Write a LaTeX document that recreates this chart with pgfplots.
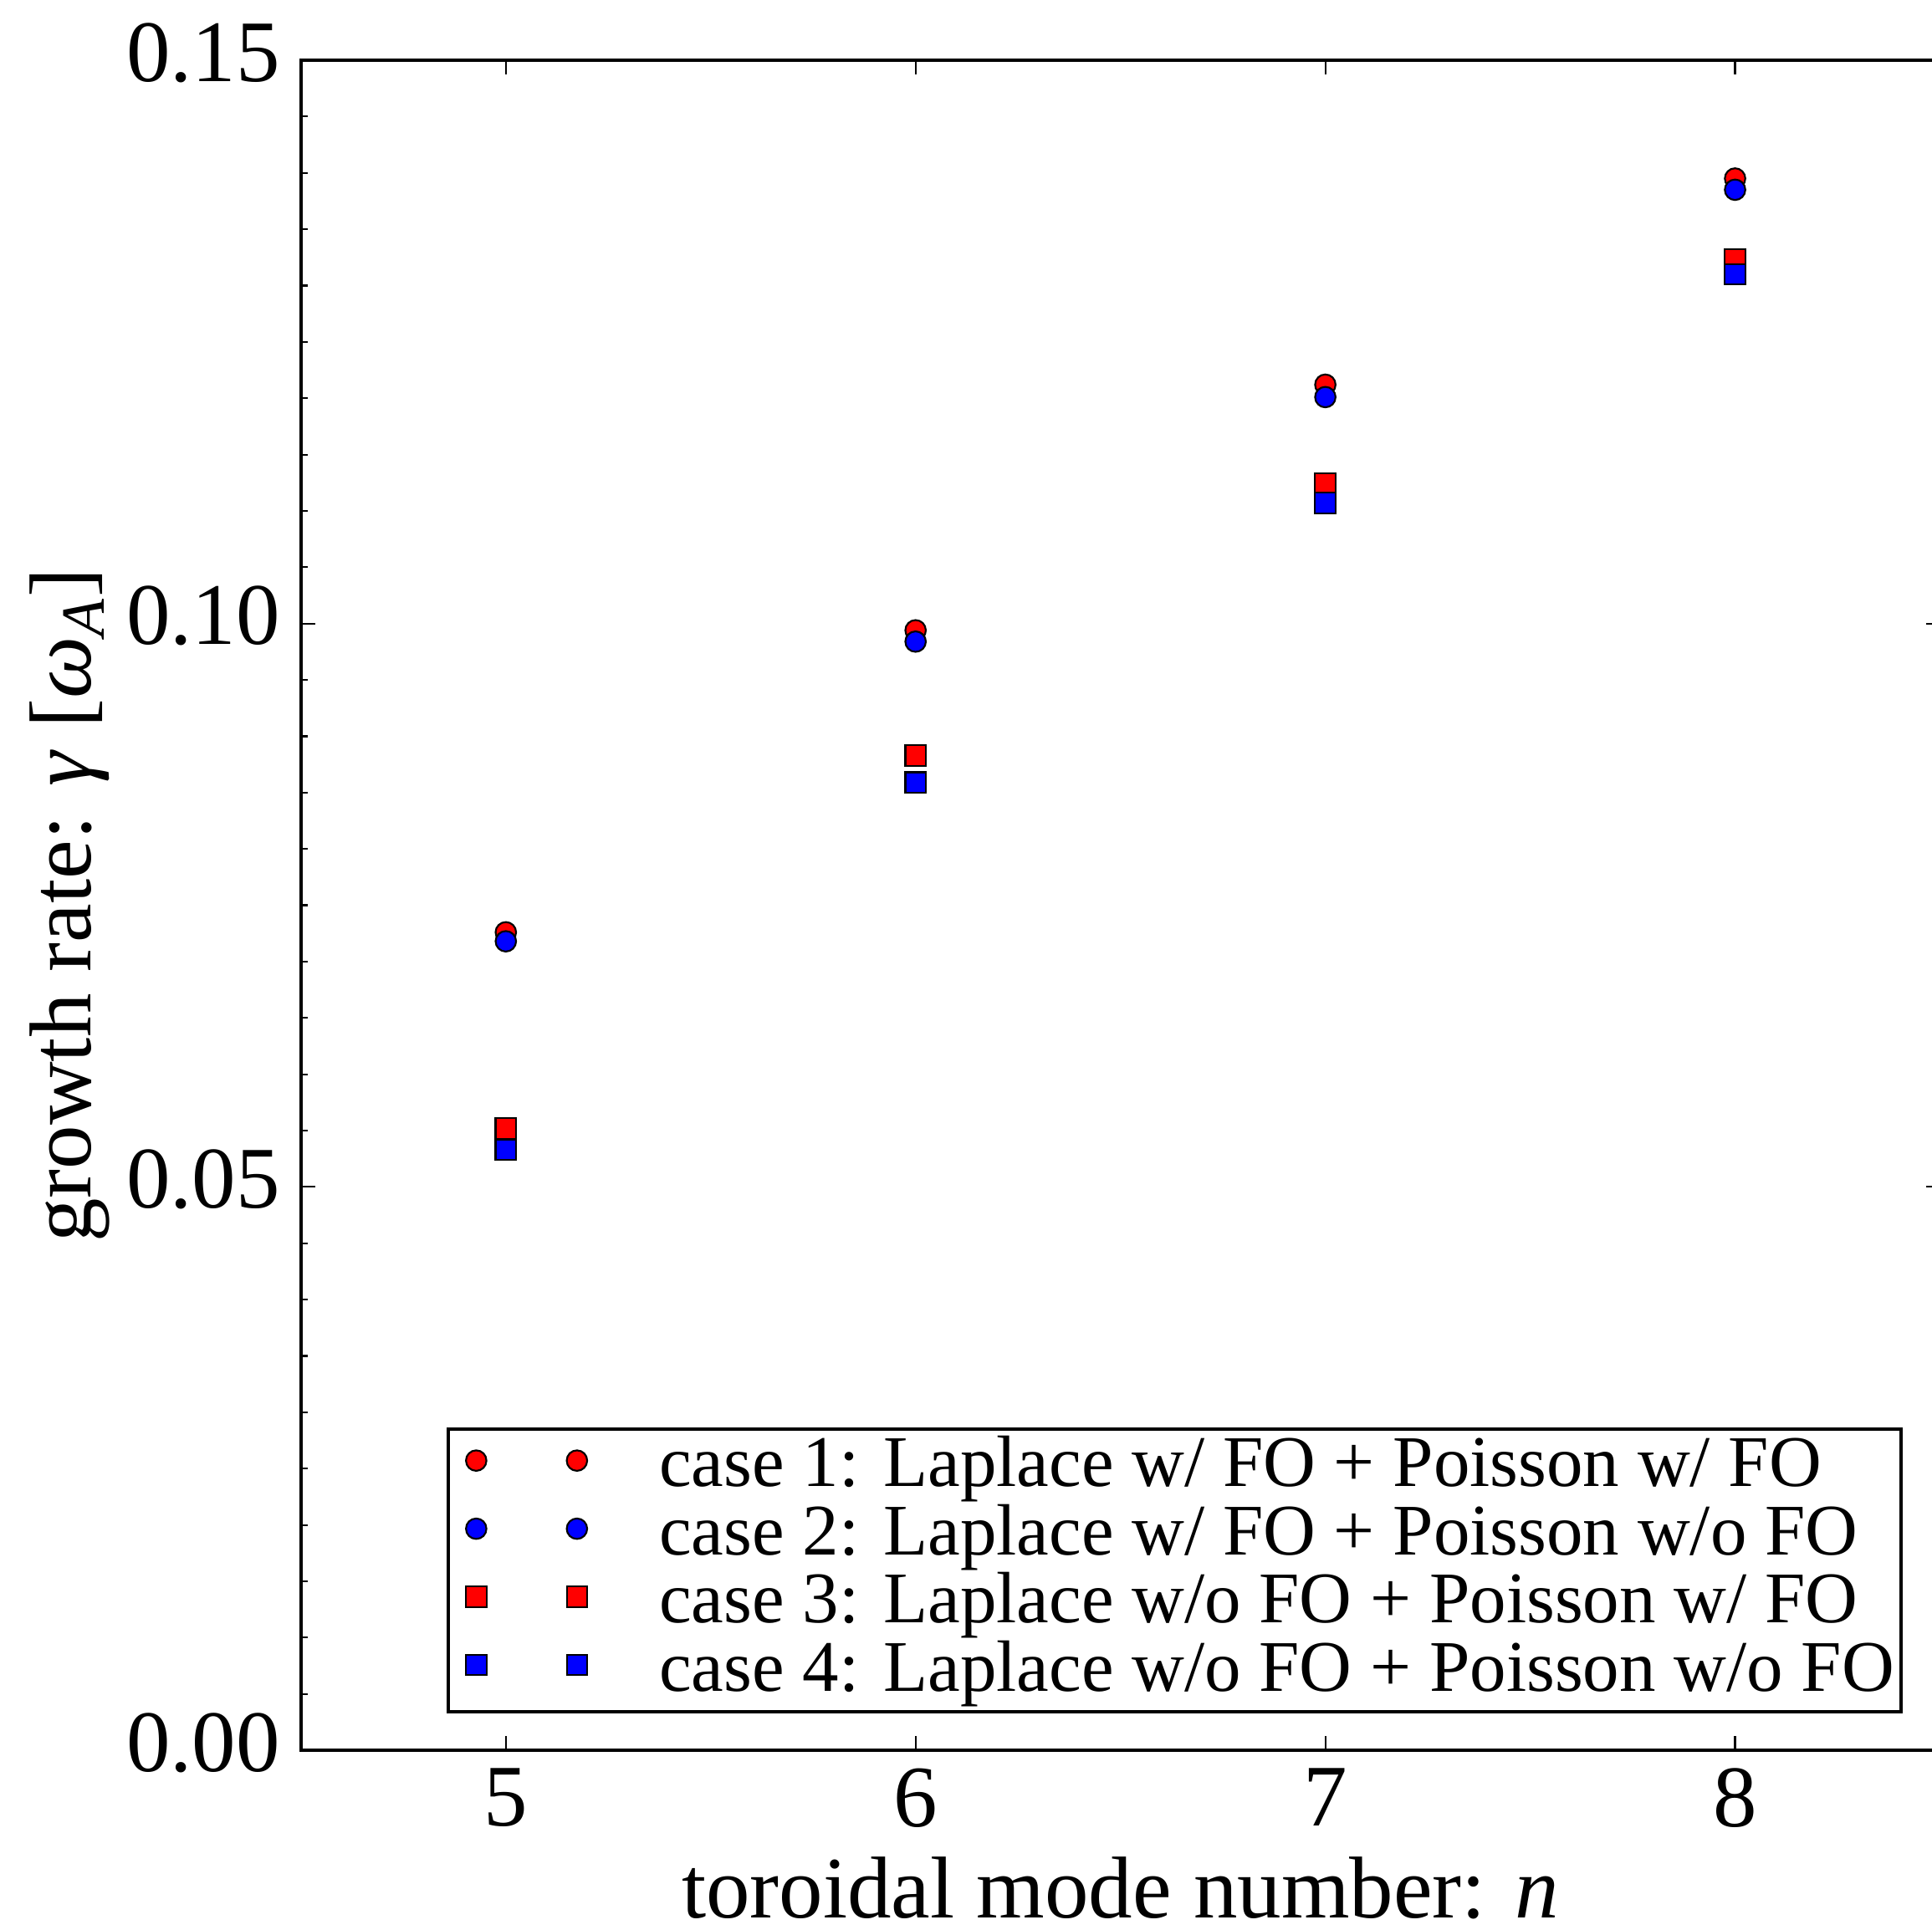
\documentclass[border=0pt]{standalone}
\usepackage{fontspec}
\setmainfont{Liberation Serif}
\usepackage{pgfplots}
\pgfplotsset{compat=1.18}
\begin{document}
\begin{tikzpicture}
\begin{axis}[
  at={(0pt,0pt)}, anchor=south west,
  scale only axis, width=392.1pt, height=404.4pt,
  xmin=4.5, xmax=8.5, ymin=0, ymax=0.15,
  xtick={5,6,7,8}, xticklabels={5,6,7,8},
  ytick={0,0.05,0.1,0.15}, yticklabels={0.00,0.05,0.10,0.15},
  minor ytick={0,0.005,...,0.15},
  tick align=inside,
  major tick length=3.4pt, minor tick length=1.7pt,
  tick style={black, line width=0.43pt},
  axis line style={line width=0.85pt},
  ticklabel style={font=\fontsize{21}{25}\selectfont},
  xticklabel style={anchor=north, inner sep=0pt, yshift=-4.2pt},
  yticklabel style={anchor=east, inner sep=0pt, xshift=-4.8pt, yshift=1.8pt},
  label style={font=\fontsize{21}{25}\selectfont},
  xlabel={toroidal mode number: \textit{n}},
  ylabel={growth rate: \textit{γ} [\textit{ω}\textsubscript{\textit{A}}]},
  xlabel style={at={(axis description cs:0.5,-0.0990)}, anchor=base, inner sep=0pt},
  ylabel style={at={(axis description cs:-0.1280,0.5)}, anchor=base, inner sep=0pt},
  legend style={at={(1,0)}, anchor=south east, xshift=-8.9pt, yshift=8.8pt,
    draw=black, line width=0.85pt, fill=white,
    inner xsep=1.6pt, inner ysep=1.2pt, row sep=0pt, column sep=14.8pt,
    font=\fontsize{17.4}{20}\selectfont,
    nodes={inner sep=0pt, text height=12.5pt, text depth=3.8pt}},
  legend cell align=left,
  legend image code/.code={\path (0pt,0pt) (33.6pt,0pt); \draw[#1, only marks] plot coordinates {(4.8pt,1.85pt) (28.9pt,1.85pt)};},
]
\addplot[only marks, mark=*, mark size=2.45pt, line width=0.43pt, mark options={fill=red, draw=black, line width=0.43pt}]
  coordinates {(5,0.0726) (6,0.0994) (7,0.1212) (8,0.1395)};
\addlegendentry{case 1: Laplace w/ FO + Poisson w/ FO}
\addplot[only marks, mark=*, mark size=2.45pt, line width=0.43pt, mark options={fill=blue, draw=black, line width=0.43pt}]
  coordinates {(5,0.0718) (6,0.0984) (7,0.1201) (8,0.1385)};
\addlegendentry{case 2: Laplace w/ FO + Poisson w/o FO}
\addplot[only marks, mark=square*, mark size=2.45pt, line width=0.43pt, mark options={fill=red, draw=black, line width=0.43pt}]
  coordinates {(5,0.0552) (6,0.0883) (7,0.1124) (8,0.1323)};
\addlegendentry{case 3: Laplace w/o FO + Poisson w/ FO}
\addplot[only marks, mark=square*, mark size=2.45pt, line width=0.43pt, mark options={fill=blue, draw=black, line width=0.43pt}]
  coordinates {(5,0.0533) (6,0.0859) (7,0.1107) (8,0.1310)};
\addlegendentry{case 4: Laplace w/o FO + Poisson w/o FO}
\end{axis}
\pgfresetboundingbox
\path[use as bounding box] (-72pt,-42.8pt) rectangle (390.2pt,418.8pt);
\end{tikzpicture}
\end{document}
